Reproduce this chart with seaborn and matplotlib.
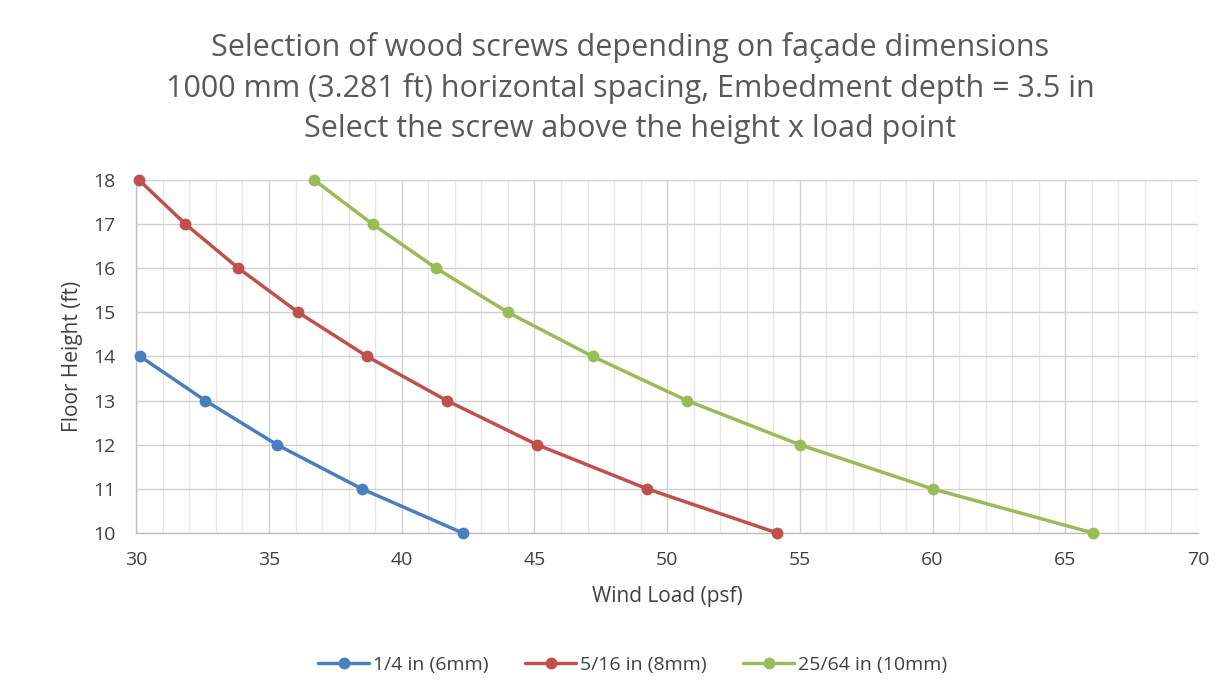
import pandas as pd
import seaborn as sns
import matplotlib.pyplot as plt
from matplotlib.ticker import MultipleLocator

# floor heights (ft) shared by each screw series
heights_quarter = [14, 13, 12, 11, 10]
load_quarter = [30.15, 32.6, 35.3, 38.5, 42.3]

heights_5_16 = [18, 17, 16, 15, 14, 13, 12, 11, 10]
load_5_16 = [30.1, 31.85, 33.85, 36.1, 38.7, 41.7, 45.1, 49.25, 54.15]

heights_25_64 = [18, 17, 16, 15, 14, 13, 12, 11, 10]
load_25_64 = [36.7, 38.9, 41.3, 44.0, 47.2, 50.75, 55.0, 60.0, 66.05]

labels = ["1/4 in (6mm)", "5/16 in (8mm)", "25/64 in (10mm)"]
colors = ["#4A7EBF", "#C0504D", "#9BBB59"]

frames = []
for lab, xs, ys in zip(labels, [load_quarter, load_5_16, load_25_64],
                       [heights_quarter, heights_5_16, heights_25_64]):
    frames.append(pd.DataFrame({"load": xs, "height": ys, "screw": lab}))
df = pd.concat(frames, ignore_index=True)

sns.set_theme(style="white")
plt.rcParams['font.family'] = ['Open Sans', 'DejaVu Sans']

fig = plt.figure(figsize=(12.28, 6.83), dpi=100)
ax = fig.add_axes([0.111, 0.2196, 0.8646, 0.5169])

sns.lineplot(data=df, x="load", y="height", hue="screw", palette=colors,
             marker="o", markersize=8.5, markeredgewidth=0, linewidth=2.5,
             sort=False, ax=ax, zorder=3, clip_on=False)

ax.set_xlim(30, 70)
ax.set_ylim(10, 18)
ax.xaxis.set_major_locator(MultipleLocator(5))
ax.xaxis.set_minor_locator(MultipleLocator(1))
ax.yaxis.set_major_locator(MultipleLocator(1))
ax.grid(which="major", color="#d0d0d0", linewidth=1)
ax.grid(which="minor", axis="x", color="#e6e6e6", linewidth=0.9)
ax.set_axisbelow(True)

for s in ["top", "right"]:
    ax.spines[s].set_visible(False)
for s in ["left", "bottom"]:
    ax.spines[s].set_color("#bfbfbf")
    ax.spines[s].set_linewidth(1)

ax.tick_params(axis="both", which="both", length=0, labelsize=14,
               labelcolor="#404040")
ax.tick_params(axis="y", pad=15)
ax.tick_params(axis="x", pad=13)
ax.set_xlabel("Wind Load (psf)", fontsize=15, color="#404040")
ax.set_ylabel("Floor Height (ft)", fontsize=15, color="#404040")
ax.xaxis.label.set_va("center")
ax.yaxis.label.set_va("center")
ax.xaxis.set_label_coords(0.5, -0.181)
ax.yaxis.set_label_coords(-0.0603, 0.5)

title_lines = ["Selection of wood screws depending on façade dimensions",
               "1000 mm (3.281 ft) horizontal spacing, Embedment depth = 3.5 in",
               "Select the screw above the height x load point"]
for line, ypos in zip(title_lines, [0.931, 0.870, 0.811]):
    fig.text(0.513, ypos, line, ha="center", va="center", fontsize=22,
             color="#595959")

leg = ax.legend(loc="center", bbox_to_anchor=(0.4675, -0.374), ncol=3,
                frameon=False, fontsize=14, handlelength=2.6, columnspacing=1.9,
                handletextpad=0.2)
for t in leg.get_texts():
    t.set_color("#404040")

fig.savefig("out.png", dpi=100)
